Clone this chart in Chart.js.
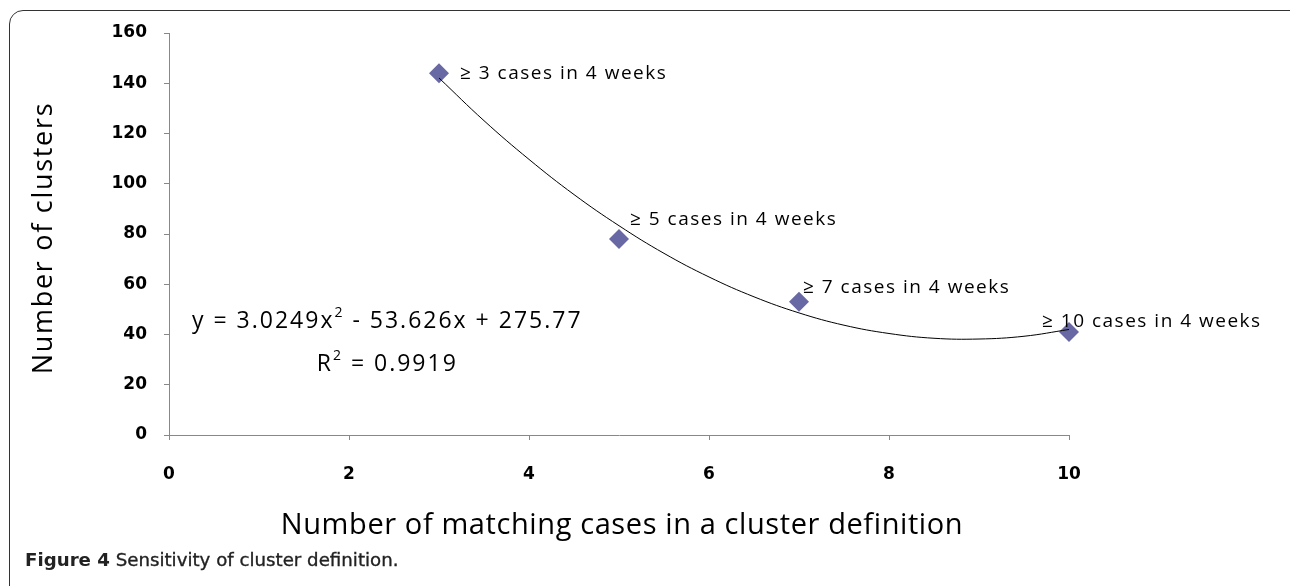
<!DOCTYPE html>
<html>
<head>
<meta charset="utf-8">
<script src="https://cdn.jsdelivr.net/npm/chart.js@4.4.0/dist/chart.umd.min.js"></script>
<style>
  body { margin: 0; background: #fff; }
  #wrap { position: relative; width: 1290px; height: 586px; overflow: hidden; }
  #frame { position: absolute; left: 9px; top: 10px; width: 1300px; height: 600px;
    border: 1.5px solid #333; border-radius: 14px; box-sizing: border-box; }
  #chart { position: absolute; left: 0; top: 0; }
  #caption { position: absolute; left: 25px; top: 549px; font-family: "DejaVu Sans"; font-size: 18.2px;
    color: #222; -webkit-text-stroke: 0.35px #222; white-space: nowrap; }
  #caption b { -webkit-text-stroke: 0; }
</style>
</head>
<body>
<div id="wrap">
  <div id="frame"></div>
  <canvas id="chart" width="1290" height="586"></canvas>
  <div id="caption"><b>Figure 4</b> Sensitivity of cluster definition.</div>
</div>
<script>
// observed points
const matchCases = [3, 5, 7, 10];
const clusters = [144, 78, 53, 41];
const pointLabels = ['\u2265 3 cases in 4 weeks', '\u2265 5 cases in 4 weeks', '\u2265 7 cases in 4 weeks', '\u2265 10 cases in 4 weeks'];

// trend curve
const trendX = [3, 3.5, 4, 4.5, 5, 5.5, 6, 6.5, 7, 7.5, 8, 8.5, 9, 9.5, 10];
const trendY = [142.1, 125.1, 109.7, 95.7, 83.3, 72.3, 62.9, 55.0, 48.6, 43.7, 40.4, 38.5, 38.2, 39.3, 42.0];

const yTicks = [0, 20, 40, 60, 80, 100, 120, 140, 160];
const xTicks = [0, 2, 4, 6, 8, 10];

const xTitle = 'Number of matching cases in a cluster definition';
const yTitle = 'Number of clusters';

// label offsets from each point (px)
const labelOffsets = [[21, 6], [11, -14], [4, -9], [-27, -5]];

const txtFont = '"Open Sans"';

function drawParts(ctx, parts, x, y) {
  parts.forEach(function (p) {
    ctx.font = p[1];
    ctx.fillText(p[0], x, y + p[2]);
    x += ctx.measureText(p[0]).width;
  });
}
function partsWidth(ctx, parts) {
  let w = 0;
  parts.forEach(function (p) { ctx.font = p[1]; w += ctx.measureText(p[0]).width; });
  return w;
}

const labelPlugin = {
  id: 'labelPlugin',
  afterDatasetsDraw(chart) {
    const ctx = chart.ctx;
    const xs = chart.scales.x, ys = chart.scales.y;
    const area = chart.chartArea;
    ctx.save();
    ctx.fillStyle = '#000';
    ctx.textBaseline = 'alphabetic';
    ctx.textAlign = 'left';

    // point labels
    ctx.font = '19px ' + txtFont;
    ctx.letterSpacing = '1.5px';
    matchCases.forEach(function (v, i) {
      const px = xs.getPixelForValue(v) + labelOffsets[i][0];
      const py = ys.getPixelForValue(clusters[i]) + labelOffsets[i][1];
      ctx.fillText(pointLabels[i], px, py);
    });

    // equation
    ctx.letterSpacing = '2px';
    const big = '23px ' + txtFont, small = '14px ' + txtFont;
    const eq = [['y = 3.0249x', big, 0], ['2', small, -11], [' - 53.626x + 275.77', big, 0]];
    const r2 = [['R', big, 0], ['2', small, -11], [' = 0.9919', big, 0]];
    const eqW = partsWidth(ctx, eq);
    const r2W = partsWidth(ctx, r2);
    const eqX = 192;
    drawParts(ctx, eq, eqX, 328);
    drawParts(ctx, r2, eqX + (eqW - r2W) / 2, 371);

    // axis titles
    ctx.textAlign = 'center';
    ctx.font = '29px ' + txtFont;
    ctx.letterSpacing = '0.6px';
    ctx.fillText(xTitle, (area.left + area.right) / 2 + 3, 534);

    ctx.translate(52, 238);
    ctx.rotate(-Math.PI / 2);
    ctx.font = '27px ' + txtFont;
    ctx.letterSpacing = '1.7px';
    ctx.fillText(yTitle, 0, 0);
    ctx.restore();
  }
};

const ctx = document.getElementById('chart');
const chart = new Chart(ctx, {
  type: 'scatter',
  data: {
    datasets: [{
      label: 'Trend',
      data: trendX.map(function (x, i) { return { x: x, y: trendY[i] }; }),
      showLine: true,
      borderColor: '#000',
      borderWidth: 1,
      pointRadius: 0,
      tension: 0.4,
      fill: false,
      clip: false
    }, {
      label: 'Clusters',
      data: matchCases.map(function (x, i) { return { x: x, y: clusters[i] }; }),
      pointStyle: 'rectRot',
      pointRadius: 10,
      backgroundColor: '#6868a4',
      borderColor: '#6868a4',
      borderWidth: 0,
      clip: false
    }]
  },
  options: {
    responsive: false,
    animation: false,
    layout: { padding: { left: 0, top: 33, right: 221, bottom: 0 } },
    plugins: { legend: { display: false }, tooltip: { enabled: false } },
    scales: {
      x: {
        type: 'linear',
        min: 0, max: 10,
        afterBuildTicks: function (scale) { scale.ticks = xTicks.map(function (v) { return { value: v }; }); },
        afterFit: function (scale) { scale.height = 151; },
        border: { color: '#888', width: 1 },
        grid: { drawOnChartArea: false, drawTicks: true, tickLength: 5, color: '#888' },
        ticks: { color: '#000', padding: 24, font: { family: 'DejaVu Sans', weight: 'bold', size: 17 } }
      },
      y: {
        min: 0, max: 160,
        afterBuildTicks: function (scale) { scale.ticks = yTicks.map(function (v) { return { value: v }; }); },
        afterFit: function (scale) { scale.width = 169; },
        border: { color: '#888', width: 1 },
        grid: { drawOnChartArea: false, drawTicks: true, tickLength: 5, color: '#888' },
        ticks: { color: '#000', padding: 17, font: { family: 'DejaVu Sans', weight: 'bold', size: 17 } }
      }
    }
  },
  plugins: [labelPlugin]
});
</script>
</body>
</html>
